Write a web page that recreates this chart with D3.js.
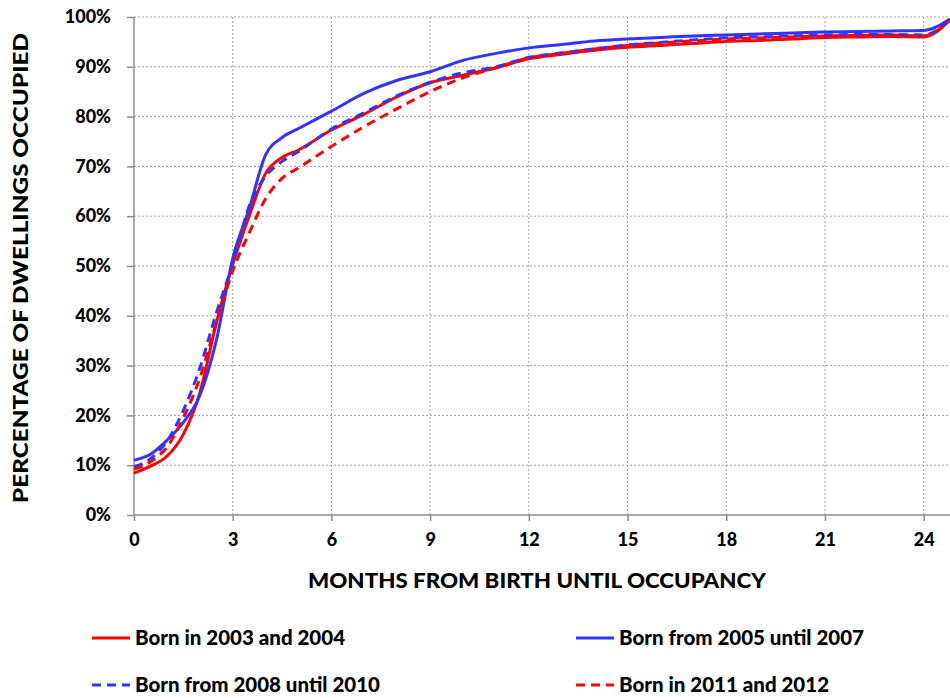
<!DOCTYPE html>
<html>
<head>
<meta charset="utf-8">
<script src="https://cdn.jsdelivr.net/npm/d3@7"></script>
<style>
  html, body { margin: 0; padding: 0; background: #fff; }
  svg { display: block; }
  text { font-family: Lato, "Open Sans", sans-serif; font-weight: 900; fill: #000; }
</style>
</head>
<body>
<svg id="chart" width="950" height="698"></svg>
<script>
// ---- data ----
const months = [0, 0.5, 1, 1.5, 2, 2.5, 3, 3.5, 4, 4.5, 5, 6, 7, 8, 9, 10, 11, 12, 13, 14, 15, 16, 17, 18, 19, 20, 21, 22, 23, 24, 24.8];
const born2003_2004 = [8.4, 9.8, 11.8, 16.2, 24.5, 38.5, 50.3, 60, 68.6, 71.8, 73.3, 77.3, 80.5, 84, 86.8, 88.3, 89.8, 91.6, 92.5, 93.3, 93.9, 94.3, 94.7, 95.1, 95.3, 95.6, 95.9, 96.0, 96.1, 96.0, 99.4];
const born2005_2007 = [11, 12.2, 15, 18.6, 24, 35, 51.5, 61.5, 72.3, 75.8, 77.6, 81.1, 84.7, 87.3, 89, 91.3, 92.7, 93.8, 94.5, 95.2, 95.6, 95.9, 96.2, 96.4, 96.6, 96.8, 97.0, 97.1, 97.2, 97.3, 99.6];
const born2008_2010 = [9.7, 11.3, 14.8, 21, 29.5, 40.5, 50.5, 62, 68, 71, 73, 77.5, 80.8, 84.2, 86.9, 88.8, 90, 91.9, 92.8, 93.6, 94.4, 94.9, 95.4, 95.8, 96, 96.2, 96.4, 96.5, 96.5, 96.4, 99.4];
const born2011_2012 = [9.2, 10.7, 13.6, 19.5, 27.5, 38.5, 49, 56.6, 63.5, 67.6, 69.7, 74, 78, 81.6, 85, 87.8, 89.8, 91.8, 92.7, 93.6, 94.3, 94.8, 95.2, 95.6, 95.8, 96.0, 96.2, 96.3, 96.4, 96.2, 99.4];
const seriesNames = ["Born in 2003 and 2004", "Born from 2005 until 2007", "Born from 2008 until 2010", "Born in 2011 and 2012"];
const xTicks = [0, 3, 6, 9, 12, 15, 18, 21, 24];
const yTicks = [0, 10, 20, 30, 40, 50, 60, 70, 80, 90, 100];
const xTitle = "MONTHS FROM BIRTH UNTIL OCCUPANCY";
const yTitle = "PERCENTAGE OF DWELLINGS OCCUPIED";

// ---- layout ----
const svg = d3.select("#chart");
const L = 134, R = 950, T = 17, B = 515;
const x = d3.scaleLinear().domain([0, 24.8]).range([L, R]);
const y = d3.scaleLinear().domain([0, 100]).range([B, T]);

const series = [
  { name: seriesNames[0], values: born2003_2004, color: "#ff0000", dash: null },
  { name: seriesNames[1], values: born2005_2007, color: "#3333ff", dash: null },
  { name: seriesNames[2], values: born2008_2010, color: "#3333ff", dash: "9,6" },
  { name: seriesNames[3], values: born2011_2012, color: "#ff0000", dash: "9,6" }
];

// grid
const grid = svg.append("g");
grid.selectAll("line.h").data(yTicks.filter(d => d > 0)).join("line")
  .attr("x1", L).attr("x2", R).attr("y1", d => y(d)).attr("y2", d => y(d))
  .attr("stroke", "#a0a0a0").attr("stroke-width", 1).attr("stroke-dasharray", "2,2");
grid.selectAll("line.v").data(xTicks.filter(d => d > 0)).join("line")
  .attr("x1", d => x(d)).attr("x2", d => x(d)).attr("y1", T).attr("y2", B)
  .attr("stroke", "#a0a0a0").attr("stroke-width", 1).attr("stroke-dasharray", "2,2");

// axes
const xAxis = d3.axisBottom(x).tickValues(xTicks).tickSize(6).tickPadding(12).tickFormat(d3.format("d"));
const yAxis = d3.axisLeft(y).tickValues(yTicks).tickSize(7).tickPadding(16).tickFormat(d => d + "%");

const gx = svg.append("g").attr("transform", `translate(0,${B})`).call(xAxis);
gx.select(".domain").attr("d", `M${L},0H${R}`);
const gy = svg.append("g").attr("transform", `translate(${L},0)`).call(yAxis);
gy.select(".domain").attr("d", `M0,${B}V${T}`);
[gx, gy].forEach(g => {
  g.select(".domain").attr("stroke", "#8c8c8c").attr("stroke-width", 1.5);
  g.selectAll(".tick line").attr("stroke", "#8c8c8c").attr("stroke-width", 1.5);
  g.selectAll(".tick text").attr("font-family", "Lato, sans-serif").attr("font-weight", 900)
    .attr("font-size", 18).attr("fill", "#000");
});

// lines
const line = d3.line().x((d, i) => x(months[i])).y(d => y(d)).curve(d3.curveMonotoneX);
svg.append("g").selectAll("path").data(series).join("path")
  .attr("d", s => line(s.values))
  .attr("fill", "none")
  .attr("stroke", s => s.color)
  .attr("stroke-width", 3)
  .attr("stroke-dasharray", s => s.dash);

// titles
svg.append("text").attr("x", 537).attr("y", 588).attr("text-anchor", "middle")
  .attr("font-size", 21).attr("textLength", 458).attr("lengthAdjust", "spacingAndGlyphs")
  .text(xTitle);
svg.append("text").attr("transform", `translate(28,${(T + B) / 2 + 2}) rotate(-90)`)
  .attr("text-anchor", "middle").attr("font-size", 21)
  .attr("textLength", 470).attr("lengthAdjust", "spacingAndGlyphs")
  .text(yTitle);

// legend
const legPos = [[92, 638], [576, 638], [92, 685], [576, 685]];
const leg = svg.append("g").selectAll("g").data(series).join("g")
  .attr("transform", (s, i) => `translate(${legPos[i][0]},${legPos[i][1]})`);
leg.append("line").attr("x1", 0).attr("x2", 38).attr("y1", 0).attr("y2", 0)
  .attr("stroke", s => s.color).attr("stroke-width", 3).attr("stroke-dasharray", s => s.dash);
leg.append("text").attr("x", 43).attr("y", 7).attr("font-size", 20.5).text(s => s.name);
</script>
</body>
</html>
